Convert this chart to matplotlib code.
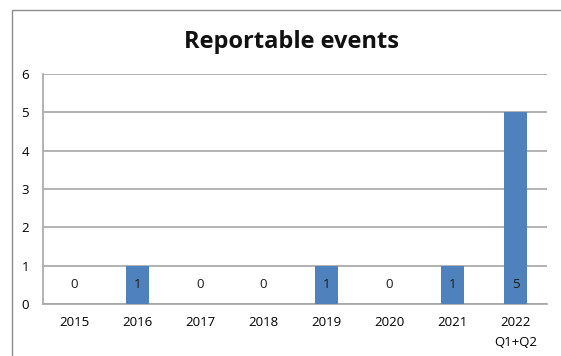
import matplotlib
matplotlib.use("Agg")
import matplotlib.pyplot as plt
from matplotlib.patches import Rectangle

categories = ["2015", "2016", "2017", "2018", "2019", "2020", "2021", "2022\nQ1+Q2"]
values = [0, 1, 0, 0, 1, 0, 1, 5]
yticks = [0, 1, 2, 3, 4, 5, 6]

plt.rcParams['font.family'] = ['Open Sans', 'DejaVu Sans']

fig = plt.figure(figsize=(5.61, 3.56), dpi=100)
fig.patches.append(Rectangle((12/561, -0.1), 1.2, 1 - 10/356 + 0.1, transform=fig.transFigure,
                             fill=False, edgecolor='#8c8c8c', linewidth=1.0))
ax = fig.add_axes([43/561, 1 - 304/356, (547 - 43)/561, (304 - 74)/356])

x = list(range(len(categories)))
ax.bar(x, values, width=0.38, color='#4F81BD', zorder=3)
for xi, v in zip(x, values):
    ax.text(xi, 0.5, str(v), ha='center', va='center', fontsize=9.5, color='#1a1a1a', zorder=4)

ax.set_xlim(-0.5, len(categories) - 0.5)
ax.set_ylim(0, 6)
ax.set_yticks(yticks)
ax.set_xticks(x)
ax.set_xticklabels(categories, fontsize=9.5, linespacing=1.6)
ax.tick_params(axis='y', labelsize=9.5, length=0, pad=10)
ax.tick_params(axis='x', length=0, pad=9)
ax.grid(axis='y', color='#a6a6a6', linewidth=1.2, zorder=0)
for s in ['top', 'right']:
    ax.spines[s].set_visible(False)
for s in ['left', 'bottom']:
    ax.spines[s].set_color('#a6a6a6')
    ax.spines[s].set_linewidth(1.2)

fig.text(292/561, 1 - 42/356, "Reportable events", ha='center', va='center',
         fontsize=17, fontweight='bold', color='#111111')

fig.savefig("out.png", dpi=100)
